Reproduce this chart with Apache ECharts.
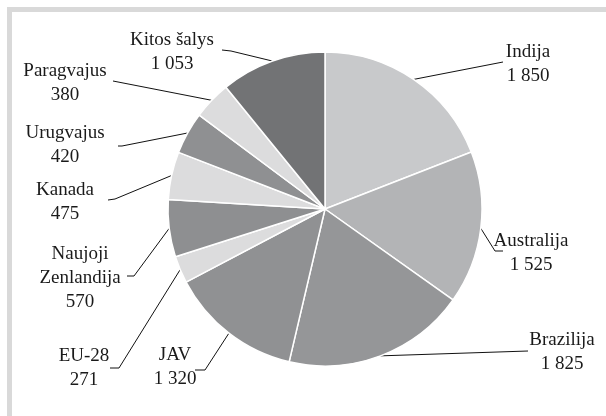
<!DOCTYPE html>
<html>
<head>
<meta charset="utf-8">
<script src="https://cdn.jsdelivr.net/npm/echarts@6/dist/echarts.min.js"></script>
<style>
html,body{margin:0;padding:0;background:#fff;}
#c{width:606px;height:416px;}
#f{position:absolute;left:0;top:0;font-family:'Liberation Serif';font-size:19px;opacity:0;pointer-events:none;}
</style>
</head>
<body>
<span id="f">Kitos šalys 1 053</span>
<div id="c"></div>
<script>
const categories = ['Indija', 'Australija', 'Brazilija', 'JAV', 'EU-28', 'Naujoji\nZenlandija', 'Kanada', 'Urugvajus', 'Paragvajus', 'Kitos šalys'];
const values = [1850, 1525, 1825, 1320, 271, 570, 475, 420, 380, 1053];
const colors = ['#c8c9cb', '#b3b4b6', '#959698', '#909193', '#dcdcdd', '#8e8f91', '#dcdcdd', '#8f9092', '#dcdcdd', '#727375'];

// label placement (text centre) and leader-line bend/end points
const labelCenters = [[528, 64], [531, 253], [562, 352], [175, 367], [84, 368], [80, 278], [65, 202], [65, 145], [65, 83], [172, 52]];
const lineBends = [
  [[503, 62], [503, 62]],
  [[495, 251], [503, 251]],
  [[528, 351], [528, 351]],
  [[205, 370], [195, 370]],
  [[119, 368], [110, 368]],
  [[134, 276], [127, 276]],
  [[115, 199], [108, 200]],
  [[122, 146], [118, 146]],
  [[113, 81], [113, 81]],
  [[231, 51], [222, 50]]
];

function fmt(v) {
  return String(v).replace(/\B(?=(\d{3})+(?!\d))/g, ' ');
}

const FONT = 'Liberation Serif';
const chart = echarts.init(document.getElementById('c'));
const option = {
  animation: false,
  backgroundColor: '#fff',
  graphic: [
    {type: 'rect', shape: {x: 7, y: 7, width: 599, height: 5}, style: {fill: '#d9d9d9'}, silent: true},
    {type: 'rect', shape: {x: 7, y: 7, width: 5, height: 409}, style: {fill: '#d9d9d9'}, silent: true}
  ],
  series: [{
    type: 'pie',
    center: [325, 209],
    radius: [0, 157],
    startAngle: 90,
    clockwise: true,
    avoidLabelOverlap: false,
    data: categories.map((n, i) => ({name: n, value: values[i], itemStyle: {color: colors[i]}})),
    itemStyle: {borderColor: '#ffffff', borderWidth: 1.5},
    label: {
      show: true,
      position: 'outside',
      formatter: p => p.name + '\n' + fmt(p.value),
      fontFamily: FONT,
      fontSize: 19,
      lineHeight: 24,
      color: '#1a1a1a',
      align: 'center'
    },
    labelLine: {
      show: true,
      length: 10,
      length2: 10,
      lineStyle: {color: '#111', width: 1}
    },
    labelLayout: function (params) {
      const i = params.dataIndex;
      const c = labelCenters[i];
      const p0 = params.labelLinePoints ? params.labelLinePoints[0] : null;
      const res = {x: c[0], y: c[1], align: 'center', verticalAlign: 'middle', fontSize: 19};
      if (p0) {
        res.labelLinePoints = [p0, lineBends[i][0], lineBends[i][1]];
      }
      return res;
    }
  }]
};
chart.setOption(option);
// force a display-list refresh (this made the serif font take effect in testing)
chart.getZr().storage.getDisplayList(true);
if (document.fonts && document.fonts.ready) {
  document.fonts.ready.then(function () {
    chart.setOption(option, true);
  });
}
</script>
</body>
</html>
